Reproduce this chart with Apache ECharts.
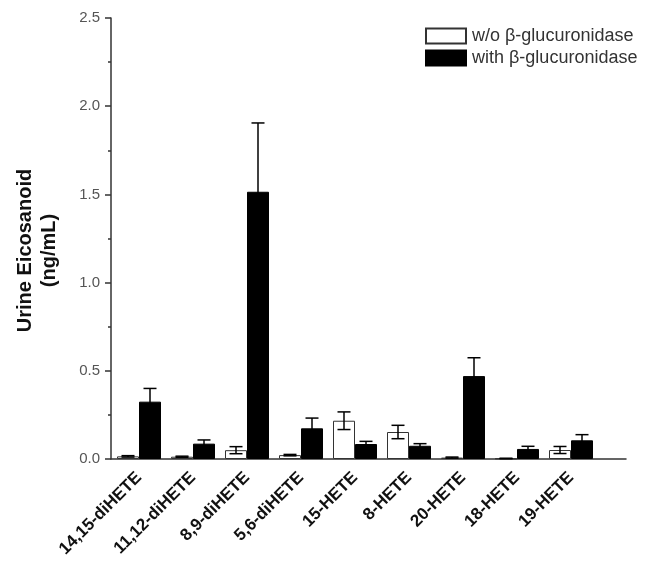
<!DOCTYPE html>
<html>
<head>
<meta charset="UTF-8">
<title>Urine Eicosanoid</title>
<script type="text/javascript" src="https://cdn.jsdelivr.net/npm/echarts@6/dist/echarts.min.js"></script>
<style>
  html, body { margin: 0; padding: 0; background: #fff; }
</style>
</head>
<body>
<div id="main" style="width: 651px;height:569px;"></div>
<script type="text/javascript">
// 数据
var categories = ['14,15-diHETE', '11,12-diHETE', '8,9-diHETE', '5,6-diHETE', '15-HETE', '8-HETE', '20-HETE', '18-HETE', '19-HETE'];
var withoutMean = [0.015, 0.013, 0.05, 0.022, 0.217, 0.153, 0.008, 0.003, 0.051];
var withoutErr  = [0.004, 0.003, 0.02, 0.004, 0.05, 0.038, 0.003, 0.001, 0.02];
var withMean = [0.325, 0.087, 1.515, 0.174, 0.085, 0.075, 0.47, 0.057, 0.106];
var withErr  = [0.075, 0.021, 0.39, 0.058, 0.015, 0.012, 0.104, 0.015, 0.032];
var yTicks = [0, 0.5, 1.0, 1.5, 2.0, 2.5];

var axisColor = '#333';
var font = 'Liberation Sans, Arial, sans-serif';

function errData(means, errs) {
    return means.map(function (m, i) { return [i, m, errs[i]]; });
}

// 误差线
function makeErr(shift) {
    return function (params, api) {
        var i = api.value(0), m = api.value(1), e = api.value(2);
        var x = api.coord([i, 0])[0] + shift * 22;
        var yTop = api.coord([i, m + e])[1];
        var yBot = api.coord([i, Math.max(m - e, 0)])[1];
        var cap = 6.5;
        var st = { stroke: '#000', lineWidth: 1.5 };
        return {
            type: 'group',
            children: [
                { type: 'line', shape: { x1: x, y1: yTop, x2: x, y2: yBot }, style: st },
                { type: 'line', shape: { x1: x - cap, y1: yTop, x2: x + cap, y2: yTop }, style: st },
                { type: 'line', shape: { x1: x - cap, y1: yBot, x2: x + cap, y2: yBot }, style: st }
            ]
        };
    };
}

var myChart = echarts.init(document.getElementById('main'));
var option = {
    animation: false,
    backgroundColor: '#fff',
    textStyle: { fontFamily: font },
    grid: [
        { left: 112, top: 18, width: 486, height: 441, outerBoundsMode: 'none', containLabel: false },
        { left: 111, top: 18, right: 25, height: 441, outerBoundsMode: 'none', containLabel: false }
    ],
    legend: {
        data: ['w/o β-glucuronidase', 'with β-glucuronidase'],
        orient: 'vertical',
        left: 425,
        top: 27,
        padding: 0,
        itemWidth: 40,
        itemHeight: 15,
        itemGap: 4,
        icon: 'rect',
        textStyle: { fontSize: 18, lineHeight: 15, color: '#333', fontFamily: font, padding: [0, 0, 0, 1] }
    },
    xAxis: [
        {
            type: 'category', gridIndex: 0, data: categories,
            axisLine: { show: false },
            axisTick: { show: false },
            axisLabel: {
                interval: 0, rotate: 45, margin: 16,
                fontSize: 17, fontWeight: 'bold', color: '#111', fontFamily: font
            }
        },
        {
            type: 'value', gridIndex: 1, min: 0, max: 1,
            axisLine: { show: true, lineStyle: { color: axisColor, width: 1.5 } },
            axisTick: { show: false },
            axisLabel: { show: false },
            splitLine: { show: false }
        }
    ],
    yAxis: [
        {
            type: 'value', gridIndex: 0, min: 0, max: 2.5, interval: 0.5,
            show: false
        },
        {
            type: 'value', gridIndex: 1, min: 0, max: 2.5, interval: 0.5,
            name: 'Urine Eicosanoid\n(ng/mL)',
            nameLocation: 'middle',
            nameGap: 50,
            nameTextStyle: {
                fontSize: 20, fontWeight: 'bold', color: '#111', lineHeight: 24,
                fontFamily: font, padding: [0, 24, 0, 0]
            },
            axisLine: { show: true, lineStyle: { color: axisColor, width: 1.5 } },
            axisTick: { show: true, length: 6, lineStyle: { color: axisColor, width: 1.5 } },
            minorTick: { show: true, splitNumber: 2, length: 3, lineStyle: { color: axisColor, width: 1.5 } },
            axisLabel: {
                fontSize: 15, color: '#555', margin: 11, fontFamily: font,
                formatter: function (v) { return v.toFixed(1); }
            },
            splitLine: { show: false }
        }
    ],
    series: [
        {
            name: 'w/o β-glucuronidase', type: 'bar', xAxisIndex: 0, yAxisIndex: 0,
            data: withoutMean, barWidth: 22, barGap: '0%',
            itemStyle: { color: '#fff', borderColor: '#333', borderWidth: 1 }
        },
        {
            name: 'with β-glucuronidase', type: 'bar', xAxisIndex: 0, yAxisIndex: 0,
            data: withMean, barWidth: 22, barGap: '0%',
            itemStyle: { color: '#000', borderColor: '#000', borderWidth: 1 }
        },
        {
            type: 'custom', xAxisIndex: 0, yAxisIndex: 0,
            renderItem: makeErr(-0.5), data: errData(withoutMean, withoutErr), z: 5
        },
        {
            type: 'custom', xAxisIndex: 0, yAxisIndex: 0,
            renderItem: makeErr(0.5), data: errData(withMean, withErr), z: 5
        }
    ]
};
myChart.setOption(option);
</script>
</body>
</html>
